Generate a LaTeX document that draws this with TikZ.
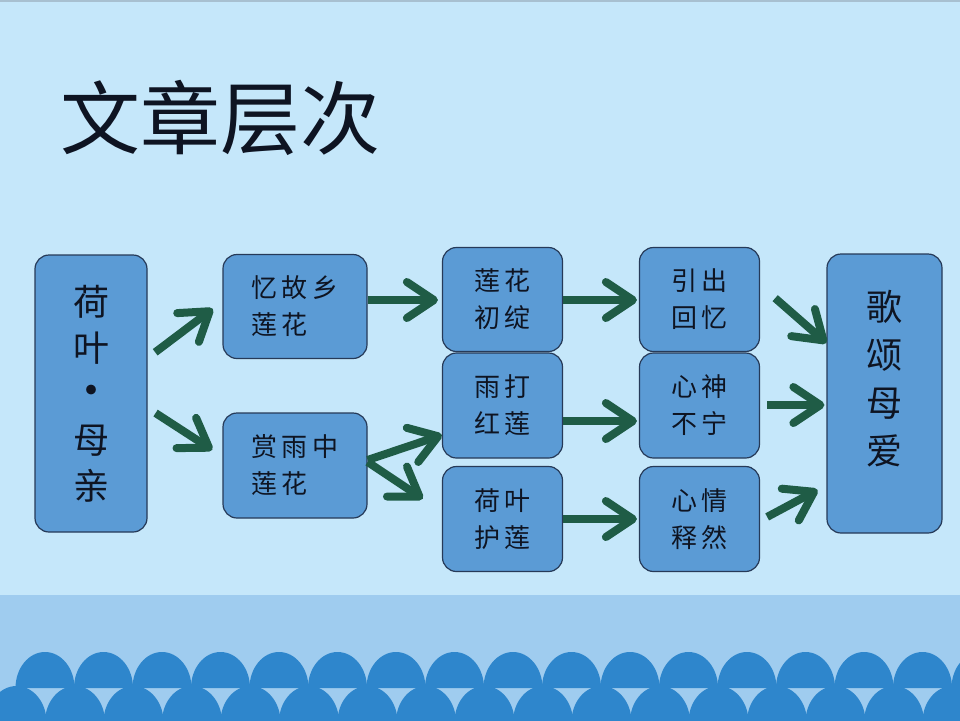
\documentclass[tikz,border=0pt]{standalone}
\usepackage{fontspec}
\newfontfamily\cjk{Noto Sans CJK SC}
\newfontfamily\cjkwide[LetterSpace=18]{Noto Sans CJK SC}
\definecolor{slide}{RGB}{197,231,250}
\definecolor{rim}{RGB}{168,192,208}
\definecolor{band}{RGB}{159,204,239}
\definecolor{wave}{RGB}{46,134,204}
\definecolor{boxblue}{RGB}{91,155,213}
\definecolor{edge}{RGB}{38,58,88}
\definecolor{leaf}{RGB}{31,92,70}
\definecolor{ink}{RGB}{14,20,34}
\usepackage{tikz}
\usetikzlibrary{arrows.meta,positioning}

\begin{document}
\begin{tikzpicture}[x=1pt,y=-1pt,
    box/.style={draw=edge,line width=1.2pt,fill=boxblue,rounded corners=14pt,inner sep=0pt,text=ink},
    small/.style={box,font=\cjkwide\fontsize{26}{37}\selectfont,align=left},
    tall/.style={box,font=\cjk\fontsize{36}{46}\selectfont,align=center},
    arr/.style={draw=leaf,line width=8pt,-{Straight Barb[length=27pt,width=36pt,round]}}]
  % backdrop
  \fill[slide] (0,0) rectangle (960,720);
  \fill[rim] (0,0) rectangle (960,2);
  \fill[band] (0,595) rectangle (960,720);
  \begin{scope}
    \clip (0,595) rectangle (960,720);
    \foreach \k in {0,...,16}
      \fill[wave] (45+58.5*\k-29.5,688) arc[start angle=180,end angle=360,x radius=29.5,y radius=36] -- cycle;
    \foreach \k in {0,...,16}
      \fill[wave] (16.5+58.5*\k,722) ellipse[x radius=30,y radius=36];
  \end{scope}
  % title
  \node[font=\cjk\fontsize{80}{80}\selectfont,text=ink] (ttl) at (220,118) {文章层次};
  % boxes
  \node[tall,minimum width=112pt,minimum height=277pt] (hy) at (91,393.5) {荷\\叶\\{\fontsize{46}{46}\selectfont\smash{•}}\\母\\亲};
  \node[small,minimum width=144pt,minimum height=104pt] (yg) at (295,306.5) {忆故乡\\莲花};
  \node[small,minimum width=144pt,minimum height=105pt] (sy) at (295,465.5) {赏雨中\\莲花};
  \node[small,minimum width=120pt,minimum height=104pt] (lh) at (502.5,299.5) {莲花\\初绽};
  \node[small,minimum width=120pt,minimum height=105pt] (yd) at (502.5,405.5) {雨打\\红莲};
  \node[small,minimum width=120pt,minimum height=105pt] (hl) at (502.5,519) {荷叶\\护莲};
  \node[small,minimum width=120pt,minimum height=104pt] (yc) at (699.5,299.5) {引出\\回忆};
  \node[small,minimum width=120pt,minimum height=105pt] (xs) at (699.5,405.5) {心神\\不宁};
  \node[small,minimum width=120pt,minimum height=105pt] (xq) at (699.5,519) {心情\\释然};
  \node[box,minimum width=115pt,minimum height=279pt,
    label={[name=gst,font=\cjk\fontsize{36}{48}\selectfont,text=ink,align=center,yshift=15pt]center:{歌\\颂\\母\\爱}}] (gs) at (884.5,393.5) {};
  % arrows
  \draw[arr,shorten <=9.5pt,shorten >=12pt] ([yshift=35.5pt]hy.east) -- ([yshift=4.9pt]yg.west);
  \draw[arr,shorten <=9.5pt,shorten >=12pt] ([yshift=-14.4pt]hy.east) -- ([yshift=9.1pt]sy.west);
  \draw[arr,shorten >=4pt] ([yshift=6.5pt]yg.east) -- ([yshift=-0.5pt]lh.west);
  \draw[arr] ([yshift=5.5pt]sy.east) -- ([yshift=-29.5pt]yd.west);
  \draw[arr,shorten >=23pt] ([yshift=3.5pt]sy.east) -- ([yshift=7.5pt]hl.west);
  \draw[arr,shorten >=2pt] ([yshift=-0.5pt]lh.east) -- ([yshift=-0.5pt]yc.west);
  \draw[arr,shorten >=2pt] ([yshift=-15.5pt]yd.east) -- ([yshift=-15.5pt]xs.west);
  \draw[arr,shorten >=2pt] (hl.east) -- (xq.west);
  \draw[arr,shorten <=20pt] ([yshift=14.5pt]yc.east) -- ([yshift=50.5pt]gs.west);
  \draw[arr,shorten <=7pt,shorten >=2pt] ([yshift=0.5pt]xs.east) -- ([yshift=-11.5pt]gs.west);
  \draw[arr,shorten <=8pt,shorten >=10pt] ([yshift=-1.7pt]xq.east) -- ([yshift=-91.7pt]gs.west);
\end{tikzpicture}
\end{document}
